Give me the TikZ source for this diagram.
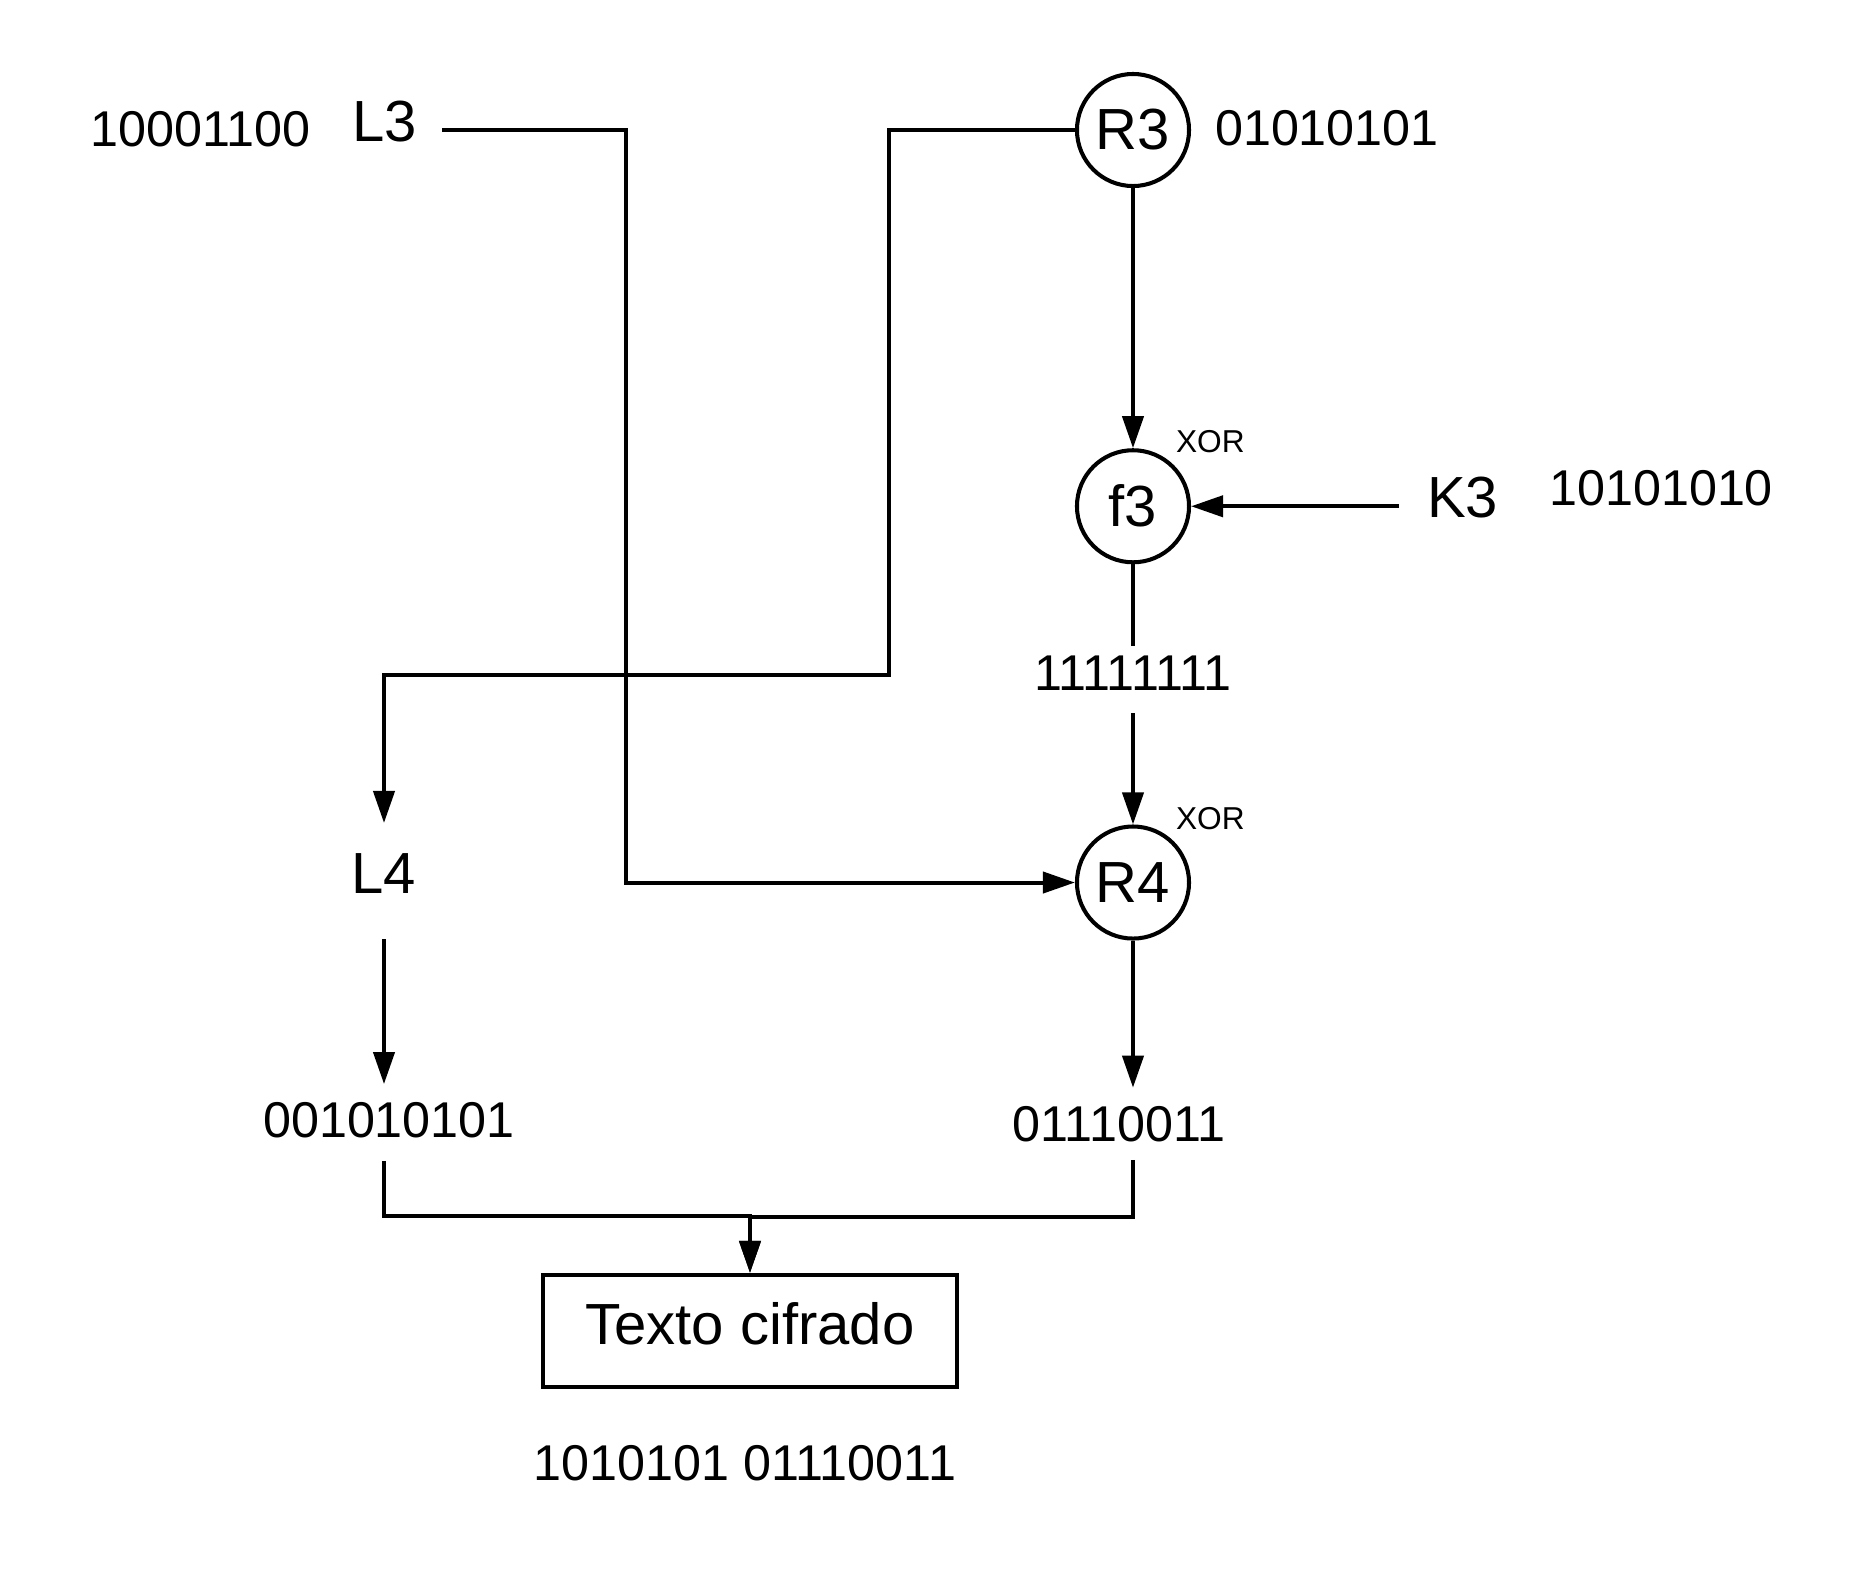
\documentclass[tikz,border=0pt]{standalone}
\usepackage{fontspec}
\setmainfont{Liberation Sans}
\usetikzlibrary{arrows.meta,positioning}

\begin{document}
\begin{tikzpicture}[x=0.01cm, y=-0.01cm, line width=1.15pt,
    gate/.style={draw, circle, minimum size=1.12cm, inner sep=0pt, font=\fontsize{16.5}{18}\selectfont},
    var/.style={inner sep=0pt, font=\fontsize{16.5}{18}\selectfont},
    bits/.style={inner sep=0pt, font=\fontsize{14.3}{16}\selectfont},
    xorlbl/.style={inner sep=0pt, font=\fontsize{9}{11}\selectfont},
    outbox/.style={draw, minimum width=4.14cm, minimum height=1.12cm, text depth=0.15cm, font=\fontsize{16.5}{18}\selectfont},
    arr/.style={-{Triangle[length=3.2mm, width=2.1mm]}}]
    \useasboundingbox (0,0) rectangle (1862,1575);

    \node[gate] (r3) at (1133,130) {R3};
    \node[gate, below=2.6cm of r3] (f3) {f3};
    \node[gate, below=2.6cm of f3] (r4) {R4};

    \node[var] (l3) at (385,122) {L3};
    \node[var] (l4) at (384,874) {L4};
    \node[var, right=2.34cm of f3, yshift=0.085cm] (k3) {K3};

    \node[xorlbl, above right=0.1cm and 0cm of f3] (x1) {XOR};
    \node[xorlbl, above right=0.1cm and 0cm of r4] (x2) {XOR};

    \node[bits, left=0.38cm of l3, yshift=-0.075cm] (bl3) {10001100};
    \node[bits, right=0.22cm of r3, yshift=0.02cm] (br3) {01010101};
    \node[bits, right=0.47cm of k3, yshift=0.1cm] (bk3) {10101010};
    \node[bits, below=0.9cm of f3] (bf3) {11111111};
    \node[bits, below=2.04cm of l4, xshift=0.05cm] (bl4) {001010101};
    \node[bits, below=1.64cm of r4, xshift=-0.14cm] (br4) {01110011};

    \node[outbox] (out) at (750,1331) {Texto cifrado};
    \node[bits, below=0.54cm of out, xshift=-0.05cm] (bout) {1010101 01110011};

    \draw[arr] ([xshift=0.23cm, yshift=-0.08cm]l3.east) -- ++(184,0) |- (r4.west);
    \draw[arr] (r3.west) -- ++(-186,0) -- ++(0,545) -| ([yshift=0.29cm]l4.north);
    \draw[arr] (r3) -- (f3);
    \draw[arr] ([xshift=-0.26cm]k3.west |- f3.east) -- (f3.east);
    \draw (f3) -- ([yshift=0.08cm]bf3.north);
    \draw[arr] ([yshift=-0.2cm]bf3.south) -- (r4);
    \draw[arr] (r4) -- ([yshift=0.17cm]r4 |- br4.north);
    \draw[arr] ([yshift=-0.43cm]l4.south) -- ([yshift=0.16cm]l4 |- bl4.north);
    \draw[arr] ([yshift=-0.21cm]l4 |- bl4.south) -- ++(0,55) -| (out.north);
    \draw[arr] ([yshift=-0.155cm]r4 |- br4.south) -- ++(0,57) -| (out.north);
\end{tikzpicture}
\end{document}
